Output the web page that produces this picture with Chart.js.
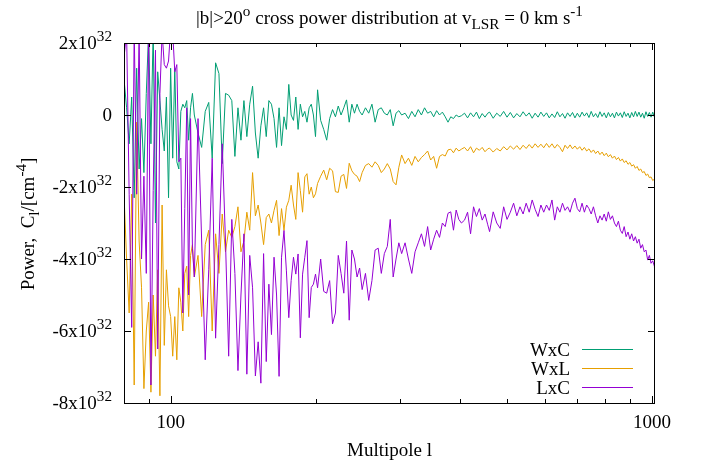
<!DOCTYPE html>
<html>
<head>
<meta charset="utf-8">
<script src="https://cdn.jsdelivr.net/npm/chart.js@4.4.1/dist/chart.umd.min.js"></script>
<style>
  html, body { margin: 0; padding: 0; background: #fff; }
  canvas { display: block; }
</style>
</head>
<body>
<canvas id="powerChart" width="703" height="463"></canvas>
<script>
// multipole l of each sample
const multipole = [
  80, 81, 82, 83, 84, 85, 86, 87, 88, 89, 90, 91, 92, 93, 94, 95, 96, 97, 98, 99, 100, 101, 102, 103, 104, 105, 106, 107, 108, 109, 110, 111,
  112, 114, 116, 118, 120, 122, 124, 126, 128, 130, 132, 134, 136, 138, 140, 142, 144, 146, 148, 150, 152, 154, 156, 158, 160,
  162, 164, 166, 168, 170, 172, 174, 176, 178, 180, 182, 184, 186, 188, 190, 192, 194, 196, 198, 200,
  202, 205, 208, 211, 214, 217, 220, 223, 226, 229, 232, 235, 238, 241, 244, 247, 250,
  254, 258, 262, 266, 270, 274, 278, 282, 286, 290, 294, 298, 302,
  307, 312, 317, 322, 327, 332, 337, 342, 347, 352, 357, 362, 367, 372, 377, 382, 387, 392, 397, 402,
  408, 414, 420, 426, 432, 438, 444, 450, 456,
  460, 468, 476, 484, 492, 500, 508, 516, 524, 532,
  540, 548, 556, 564, 572, 580, 588, 596, 604, 612,
  620, 628, 636, 644, 652, 660, 668, 676, 684, 692,
  700, 708, 716, 724, 732, 740, 748, 756, 764, 772,
  780, 788, 796, 804, 812, 820, 828, 836, 844, 852,
  860, 868, 876, 884, 892, 900, 908, 916, 924, 932,
  940, 948, 956, 964, 972, 980, 988, 996, 1004, 1012,
  1015
];

// cross power, units of 1e32 cm^-4
const wxc = [
  1.0, 0.2, -0.8, 0.5, -2.3, 1.3, -1.5, -0.1, -1.6, 0.6, 2.3, -0.8, 2.4, -3.0, 1.2, 0.4, -0.4, -1.0, 0.5, -2.3, 1.3, -1.2, 1.3, -1.3, -1.5, 0.1, 0.3, 0.2, 0.4, -0.7, 0.2, 0.6,
  0.0, -0.5, -0.9, 0.1, 0.35, -1.2, 1.45, 1.15, -1.35, 0.6, 0.55, 0.4, -1.15, 0.2, -0.7, 0.4, -0.6, 0.3, 0.8, -0.5, -1.2, -0.3, 0.2, -0.6, 0.4,
  0.3, -0.1, -0.9, 0.2, -0.85, -0.05, -0.4, 0.85, 0.0, -0.15, 0.5, -0.4, 0.3, -0.05, 0.1, -0.2, 0.2, 0.3, 0.0, -0.6,
  0.7, -0.15, -0.4, -0.7, -0.1, 0.15, -0.05, 0.25, 0.0, 0.2, 0.42, -0.2, 0.3, 0.05, 0.3, 0.1, 0.0,
  0.2, 0.05, 0.3, -0.2, 0.15, 0.2, 0.05, 0.0, 0.15, -0.3, 0.05, 0.12, 0.0,
  0.05, -0.1, 0.1, -0.05, 0.15, 0.0, 0.2, 0.05, 0.1, -0.05, 0.12, 0.0, 0.08, -0.05, -0.2, -0.05, -0.1, 0.0, -0.05, -0.02,
  0.05, -0.08, 0.06, -0.05, 0.08, -0.1, 0.04, -0.06, 0.05,
  0.08, -0.09, 0.05, -0.04, 0.10, -0.06, 0.07, -0.08, 0.04, -0.05,
  0.09, -0.03, 0.06, -0.09, 0.05, -0.06, 0.08, -0.04, 0.06, -0.08,
  0.03, -0.07, 0.09, -0.05, 0.04, -0.09, 0.06, -0.04, 0.07, -0.08,
  0.05, -0.06, 0.08, -0.03, 0.06, -0.07, 0.10, -0.05, 0.04, -0.07,
  0.09, -0.04, 0.06, -0.08, 0.07, -0.05, 0.05, -0.08, 0.08, -0.03,
  0.06, -0.07, 0.09, -0.04, 0.05, -0.08, 0.07, -0.05, 0.10, -0.04,
  0.08, -0.06, 0.05, -0.09, 0.09, -0.04, 0.07, -0.06, 0.08, -0.05,
  0.02
];
const wxl = [
  -2.2, -4.0, -5.5, -2.2, -7.5, -0.2, -3.5, -4.8, -7.6, -6.0, -5.2, -7.7, -5.0, -6.7, -4.3, -7.8, -2.5, -6.4, -4.3, -5.3, -5.6, -6.7, -5.6, -6.8, -4.8, -5.2, -6.0, -4.4, -4.2, -5.6, -3.9, -3.6,
  -4.5, -3.9, -5.6, -3.6, -3.2, -6.0, -3.3, -4.4, -2.75, -3.8, -3.2, -3.4, -3.1, -2.55, -3.8, -3.5, -2.7, -3.2, -1.6, -2.8, -2.5, -3.0, -3.6, -2.85, -2.75,
  -3.0, -2.65, -2.37, -3.35, -2.6, -3.21, -2.56, -2.37, -1.95, -2.5, -2.9, -1.6, -2.1, -2.7, -1.72, -1.63, -2.2, -2.0, -2.3, -2.19,
  -1.9, -1.7, -1.53, -1.8, -1.48, -1.55, -2.13, -2.15, -1.7, -1.65, -2.04, -1.34, -1.55, -1.65, -1.7, -1.85, -1.6,
  -1.4, -1.35, -1.45, -1.3, -1.4, -1.6, -1.5, -1.35, -1.5, -1.85, -1.94, -1.45, -1.11,
  -1.35, -1.2, -1.4, -1.15, -1.3, -1.18, -1.1, -1.0, -1.25, -1.15, -1.48, -1.15, -1.1, -1.14, -0.97, -0.95, -1.05, -0.92, -1.0, -0.95,
  -0.9, -1.0, -0.88, -1.05, -0.92, -0.98, -0.9, -1.02, -0.94,
  -0.92, -1.03, -0.93, -1.0, -0.88, -0.97, -0.86, -0.95, -0.85, -0.96,
  -0.84, -0.93, -0.82, -0.92, -0.8, -0.9, -0.81, -0.91, -0.79, -0.9,
  -0.8, -0.92, -0.82, -0.9, -1.02, -0.84, -0.93, -0.83, -0.94, -0.86,
  -0.95, -0.88, -0.98, -0.9, -1.0, -0.94, -1.04, -0.97, -1.07, -1.0,
  -1.1, -1.03, -1.13, -1.06, -1.16, -1.1, -1.2, -1.14, -1.24, -1.18,
  -1.28, -1.22, -1.32, -1.27, -1.37, -1.32, -1.42, -1.38, -1.48, -1.43,
  -1.54, -1.5, -1.6, -1.57, -1.68, -1.64, -1.74, -1.72, -1.82, -1.78,
  -1.86
];
const lxc = [
  1.6, 2.3, -2.2, -5.9, 2.4, -2.2, 2.3, -4.0, -1.7, -4.4, 2.5, -7.5, -2.1, 1.8, -6.5, 0.6, 2.3, 1.4, 1.3, 1.5, 2.4, 2.3, 1.2, 1.4, -1.3, -1.2, -5.5, -2.6, 0.2, -5.0, -0.1, -3.7,
  -4.5, -0.1, -3.5, -6.8, -4.3, -1.2, -6.2, -3.6, -0.8, -3.5, -6.7, -2.9, -4.4, -7.1, -5.0, -3.3, -7.2, -3.9, -4.8, -7.25, -6.3, -7.45, -3.85, -6.85, -4.7,
  -6.1, -3.95, -5.0, -7.26, -3.95, -3.21, -4.33, -5.63, -4.6, -3.95, -4.42, -3.86, -6.19, -4.42, -3.95, -3.49, -5.63, -4.79, -4.7, -4.42,
  -4.8, -4.0, -4.9, -4.95, -4.6, -5.8, -5.5, -3.9, -4.4, -4.95, -3.5, -5.7, -3.75, -4.0, -4.5, -4.25, -4.85,
  -4.4, -5.15, -4.6, -3.75, -3.7, -4.4, -3.85, -3.65, -2.9, -4.5, -4.0, -3.55, -3.85,
  -3.55, -4.0, -4.4, -3.8, -3.55, -3.3, -3.65, -3.1, -3.75, -3.45, -3.2, -3.4, -3.0, -3.1, -2.73, -2.69, -3.2, -2.64, -2.9, -3.0,
  -2.92, -2.7, -3.3, -2.55, -2.82, -2.6, -2.92, -2.75, -3.05,
  -3.24, -2.69, -3.0, -3.15, -2.55, -2.9, -2.7, -2.45, -2.8, -2.55,
  -2.75, -2.45, -2.7, -2.36, -2.62, -2.82, -2.5, -2.7, -2.5, -2.65,
  -2.36, -2.92, -2.55, -2.7, -2.45, -2.65, -2.55, -2.7, -2.45, -2.31,
  -2.6, -2.69, -2.45, -2.7, -2.5, -2.6, -2.75, -2.55, -2.8, -3.0,
  -2.8, -2.92, -2.75, -2.95, -2.69, -2.9, -2.8, -3.0, -3.1, -2.95,
  -3.2, -3.29, -3.1, -3.38, -3.25, -3.45, -3.3, -3.5, -3.38, -3.56,
  -3.45, -3.7, -3.6, -3.8, -3.75, -4.03, -3.9, -4.12, -4.05, -4.2,
  -4.5
];

const seriesNames = ['WxC', 'WxL', 'LxC'];
const seriesColors = ['#009e73', '#e69f00', '#9400d3'];
const yTicks = [-8, -6, -4, -2, 0, 2];
const xLabels = [100, 1000];
const xMinor = [80, 90, 200, 300, 400, 500, 600, 700, 800, 900];

const FONT = '"Liberation Serif", "Times New Roman", serif';
const FS = 19;

function toPoints(values) {
  return multipole.map((l, i) => ({ x: l, y: values[i] }));
}

// pieces of text: [text, 0 normal | 1 superscript | -1 subscript]
function fontFor(k) {
  return (k ? FS * 0.8 : FS) + 'px ' + FONT;
}
function richWidth(ctx, parts) {
  let w = 0;
  parts.forEach(([t, k]) => { ctx.font = fontFor(k); w += ctx.measureText(t).width; });
  return w;
}
function drawRich(ctx, parts, x, base, align) {
  const w = richWidth(ctx, parts);
  let cx = align === 'right' ? x - w : align === 'center' ? x - w / 2 : x;
  ctx.textAlign = 'left';
  ctx.textBaseline = 'alphabetic';
  parts.forEach(([t, k]) => {
    ctx.font = fontFor(k);
    const dy = k === 1 ? -FS * 0.42 : k === -1 ? FS * 0.28 : 0;
    ctx.fillText(t, cx, base + dy);
    cx += ctx.measureText(t).width;
  });
}

// gnuplot style frame, ticks, labels and key
const gnuFrame = {
  id: 'gnuFrame',
  afterDraw(chart) {
    const { ctx, chartArea: a, scales: { x, y } } = chart;
    ctx.save();
    ctx.strokeStyle = '#000';
    ctx.fillStyle = '#000';
    ctx.lineWidth = 1;

    ctx.beginPath();
    yTicks.forEach(v => {
      const p = Math.round(y.getPixelForValue(v)) + 0.5;
      ctx.moveTo(a.left, p); ctx.lineTo(a.left + 7, p);
      ctx.moveTo(a.right, p); ctx.lineTo(a.right - 7, p);
    });
    xLabels.forEach(v => {
      const p = Math.round(x.getPixelForValue(v)) + 0.5;
      ctx.moveTo(p, a.bottom); ctx.lineTo(p, a.bottom - 7);
      ctx.moveTo(p, a.top); ctx.lineTo(p, a.top + 7);
    });
    xMinor.forEach(v => {
      const p = Math.round(x.getPixelForValue(v)) + 0.5;
      ctx.moveTo(p, a.bottom); ctx.lineTo(p, a.bottom - 4);
      ctx.moveTo(p, a.top); ctx.lineTo(p, a.top + 4);
    });
    ctx.stroke();
    ctx.strokeRect(a.left + 0.5, a.top + 0.5, a.right - a.left - 1, a.bottom - a.top);

    // y tick labels
    yTicks.forEach(v => {
      const p = y.getPixelForValue(v);
      const parts = v === 0 ? [['0', 0]] : [[v + 'x10', 0], ['32', 1]];
      drawRich(ctx, parts, 112, p + 6, 'right');
    });
    // x tick labels
    xLabels.forEach(v => {
      drawRich(ctx, [[String(v), 0]], x.getPixelForValue(v), 428, 'center');
    });

    const mid = (a.left + a.right) / 2;
    drawRich(ctx, [['Multipole l', 0]], mid, 456, 'center');
    drawRich(ctx, [['|b|>20', 0], ['o', 1], [' cross power distribution at v', 0], ['LSR', -1],
      [' = 0 km s', 0], ['-1', 1]], mid, 24, 'center');

    ctx.save();
    ctx.translate(34, 224);
    ctx.rotate(-Math.PI / 2);
    drawRich(ctx, [['Power,  C', 0], ['l', -1], ['/[cm', 0], ['-4', 1], [']', 0]], 0, 0, 'center');
    ctx.restore();

    // key
    seriesNames.forEach((name, i) => {
      const base = 356 + i * 19;
      drawRich(ctx, [[name, 0]], 570, base, 'right');
      const ly = base - 6.5;
      ctx.strokeStyle = seriesColors[i];
      ctx.beginPath();
      ctx.moveTo(582, ly); ctx.lineTo(633, ly);
      ctx.stroke();
    });
    ctx.restore();
  }
};

const ctxLine = document.getElementById('powerChart').getContext('2d');
const powerChart = new Chart(ctxLine, {
  type: 'line',
  data: {
    datasets: [wxc, wxl, lxc].map((vals, i) => ({
      label: seriesNames[i],
      data: toPoints(vals),
      borderColor: seriesColors[i],
      borderWidth: 1,
      pointRadius: 0,
      tension: 0,
      fill: false,
      order: 3 - i
    }))
  },
  options: {
    responsive: false,
    animation: false,
    layout: { padding: { left: 0, right: 48, top: 43, bottom: 0 } },
    plugins: {
      legend: { display: false },
      tooltip: { enabled: false },
      title: { display: false }
    },
    scales: {
      x: {
        type: 'logarithmic',
        min: 80,
        max: 1015,
        grid: { display: false },
        border: { display: false },
        ticks: { display: false },
        afterFit: s => { s.height = 60; }
      },
      y: {
        type: 'linear',
        min: -8,
        max: 2,
        grid: { display: false },
        border: { display: false },
        ticks: { display: false, stepSize: 2 },
        afterFit: s => { s.width = 124; }
      }
    }
  },
  plugins: [gnuFrame]
});
</script>
</body>
</html>
